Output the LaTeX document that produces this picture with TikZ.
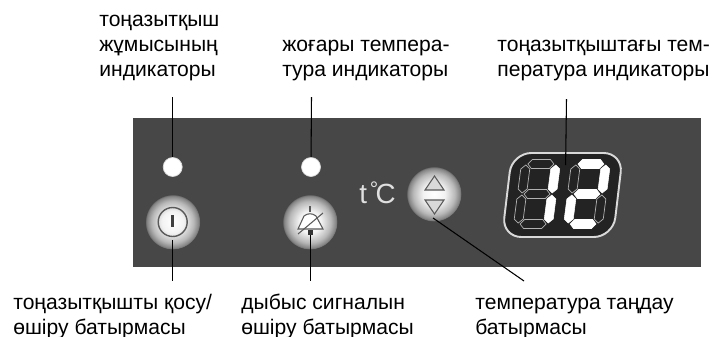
\documentclass[tikz,border=0pt]{standalone}
\usepackage{fontspec}
\setmainfont{Liberation Sans}
\usepackage{tikz}
\usetikzlibrary{calc}

\definecolor{panelgrey}{HTML}{474747}
\definecolor{screendark}{HTML}{232323}
\pgfdeclareradialshading{btnglow}{\pgfpoint{0bp}{0bp}}{%
  rgb(0bp)=(1,1,1);rgb(10bp)=(.95,.95,.95);rgb(19bp)=(.72,.72,.72);rgb(24bp)=(.5,.5,.5);rgb(25bp)=(.28,.28,.28);rgb(50bp)=(.28,.28,.28)}
\tikzset{
  label/.style={align=left,anchor=base west,inner sep=0pt,font=\fontsize{12}{14.2}\selectfont},
  leader/.style={semithick},
  led/.style={circle,fill=white,draw=white!80!panelgrey,inner sep=0pt,minimum size=.38cm},
  btn/.style={circle,shading=btnglow,inner sep=0pt,minimum size=1.1cm},
  icon/.style={draw=black!65,semithick},
  segon/.style={fill=white,draw=white,line width=.3pt},
  segoff/.style={draw=black!30,line width=.4pt}
}
\newcommand{\hseg}[2]{\draw[#1] (-13,#2)--(-9,#2-4.5)--(9,#2-4.5)--(13,#2)--(9,#2+4.5)--(-9,#2+4.5)--cycle;}
\newcommand{\vseg}[3]{\draw[#1] (#2,#3-14)--(#2+4.5,#3-10)--(#2+4.5,#3+10)--(#2,#3+14)--(#2-4.5,#3+10)--(#2-4.5,#3-10)--cycle;}

\begin{document}
\begin{tikzpicture}[x=.02cm,y=-.02cm]
  \useasboundingbox (0,0) rectangle (713,336);
  \fill[panelgrey](133,118) rectangle (701,267);
  % labels above
  \node[label](toplabelone) at (99,76){тоңазытқыш\\жұмысының\\индикаторы};
  \node[label](toplabeltwo) at (282,76){жоғары темпера-\\тура индикаторы};
  \node[label](toplabelthree) at (497,76){тоңазытқыштағы тем-\\пература индикаторы};
  % labels below
  \node[label](lowlabelone) at (13,334){тоңазытқышты қосу/\\өшіру батырмасы};
  \node[label](lowlabeltwo) at (241,334){дыбыс сигналын\\өшіру батырмасы};
  \node[label](lowlabelthree) at (475,334){температура таңдау\\батырмасы};
  % lamps and buttons
  \node[led](ledone) at (172.7,167){};
  \node[led](ledtwo) at (311,167){};
  \node[btn](btnpower) at (172.7,222){};
  \node[btn](btnbell) at (310,222){};
  \node[btn](btntemp) at (434,194){};
  \node[text=white!88!black,font=\fontsize{15.8}{16}\selectfont](tempsign) at (377.5,193){t\kern1.5pt\raisebox{4pt}{\fontsize{12}{12}\selectfont°}\kern-1.5pt C};
  % power icon
  \draw[icon,thick](172.7,222) circle (14.5);
  \draw[black!75,line width=1.5pt](172.7,215)--(172.7,227);
  % bell icon
  \draw[icon](310,206)--(310,212);
  \draw[icon,fill=white](298,229)--(304,216) to[bend left=40] (316,216)--(323,229)--cycle;
  \draw[icon](298,234)--(323,213);
  \fill[black!80](308,230) rectangle (313,235);
  % temperature arrows
  \draw[icon,fill=white!85!black](425,190)--(434.5,176)--(444,190)--cycle;
  \draw[icon,fill=white!85!black](425,200)--(444,200)--(434.5,214)--cycle;
  % display
  \draw[white!85!black,fill=screendark,line width=1.1pt,rounded corners=11](512,153)--(623,153)--(613,237)--(502,237)--cycle;
  \begin{scope}[shift={(537,194)},xslant=.13]
    \hseg{segoff}{-30}\hseg{segoff}{0}\hseg{segoff}{30}
    \vseg{segoff}{-15}{-15}\vseg{segoff}{-15}{15}
    \vseg{segon}{15}{-15}\vseg{segon}{15}{15}
  \end{scope}
  \begin{scope}[shift={(587,194)},xslant=.13]
    \hseg{segon}{-30}\hseg{segon}{0}\hseg{segon}{30}
    \vseg{segoff}{-15}{-15}\vseg{segoff}{15}{15}
    \vseg{segon}{15}{-15}\vseg{segon}{-15}{15}
  \end{scope}
  % leaders
  \coordinate(topendone) at (172.7,97);
  \coordinate(topendtwo) at (311.5,97);
  \coordinate(topendthree) at (566.5,99);
  \coordinate(screenend) at (565.6,165);
  \coordinate(lowendone) at (172.5,281);
  \coordinate(lowendtwo) at (310.5,281);
  \coordinate(lowendthree) at (524,281);
  \coordinate(powerend) at (172.5,240);
  \coordinate(bellend) at (310.5,235);
  \coordinate(tempend) at (433,218);
  \draw[leader](topendone)--(ledone);
  \draw[leader](topendtwo)--(ledtwo);
  \draw[leader](topendthree)--(screenend);
  \draw[leader](powerend)--(lowendone);
  \draw[leader](bellend)--(lowendtwo);
  \draw[leader](tempend)--(lowendthree);
\end{tikzpicture}
\end{document}
